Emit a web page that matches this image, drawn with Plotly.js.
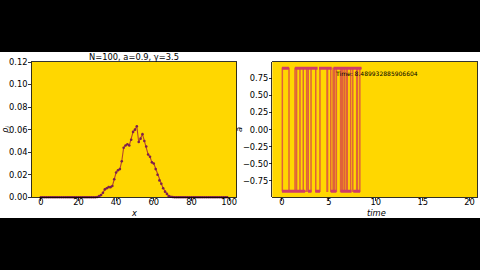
<!DOCTYPE html>
<html>
<head>
<meta charset="utf-8">
<script src="https://cdn.plot.ly/plotly-3.0.1.min.js"></script>
<style>
html,body{margin:0;padding:0;background:#000;width:480px;height:270px;overflow:hidden;}
#chart{position:absolute;left:0;top:52px;width:480px;height:166px;}
</style>
</head>
<body>
<div id="chart"></div>
<script>
// ---- data ----
var siteIndex = [];
for (var i = 0; i < 100; i++) siteIndex.push(i);
var rho = [
 0,0,0,0,0,0,0,0,0,0,
 0,0,0,0,0,0,0,0,0,0,
 0,0,0,0,0,0,0,0,0,0,
 0.0002,0.001,0.002,0.004,0.007,0.008,0.009,0.009,0.010,0.016,
 0.022,0.024,0.025,0.032,0.044,0.046,0.047,0.046,0.051,0.058,
 0.060,0.063,0.049,0.052,0.056,0.050,0.045,0.038,0.036,0.031,
 0.030,0.025,0.020,0.015,0.012,0.008,0.005,0.003,0.001,0.0005,
 0.0002,0,0,0,0,0,0,0,0,0,
 0,0,0,0,0,0,0,0,0,0,
 0,0,0,0,0,0,0,0,0,0
];
var titleText = "N=100, a=0.9, γ=3.5";
var currentTime = "8.489932885906604";

// switching signal a(t): times where the state starts, and the state
var switchT = [0, 0.04, 0.75, 1.39, 1.56, 1.92, 2.27, 2.63, 2.8, 3.1, 3.6, 4.05, 4.8, 4.86, 5.2, 5.45, 5.6, 5.8, 6.25, 6.36, 6.45, 6.64, 6.7, 6.9, 6.97, 7.32, 7.55, 7.96, 8.05, 8.3, 8.49];
var switchA = [-0.9, 0.9, -0.9, 0.9, -0.9, 0.9, -0.9, 0.9, -0.9, 0.9, -0.9, 0.9, -0.9, 0.9, -0.9, 0.9, -0.9, 0.9, -0.9, 0.9, -0.9, 0.9, -0.9, 0.9, -0.9, 0.9, -0.9, 0.9, -0.9, 0.9, 0.9];
// time spans densely covered by sample markers at each level
var topSpans = [[0.0, 0.74], [1.4, 3.8], [3.95, 5.3], [5.5, 8.47]];
var bottomSpans = [[0.0, 2.47], [2.78, 3.15], [3.55, 4.05], [5.2, 5.8], [6.24, 7.42], [7.6, 8.33]];
var levelTop = 0.9, levelBottom = -0.9;

var xTicksL = [0, 20, 40, 60, 80, 100];
var yTicksL = [0, 0.02, 0.04, 0.06, 0.08, 0.10, 0.12];
var xTicksR = [0, 5, 10, 15, 20];
var yTicksR = [-0.75, -0.5, -0.25, 0, 0.25, 0.5, 0.75];

function spansToXY(spans, level) {
  var xs = [], ys = [];
  spans.forEach(function (s) { xs.push(s[0], s[1], null); ys.push(level, level, null); });
  return {x: xs, y: ys};
}
var topXY = spansToXY(topSpans, levelTop);
var botXY = spansToXY(bottomSpans, levelBottom);

var font = {family: "DejaVu Sans", size: 8.3, color: "#000"};

var traces = [
  {x: siteIndex, y: rho, xaxis: 'x', yaxis: 'y', type: 'scatter', mode: 'lines+markers',
   line: {color: '#b5452c', width: 1.1}, marker: {color: '#7d1f4e', size: 2.6},
   cliponaxis: false, hoverinfo: 'skip'},
  {x: switchT, y: switchA, xaxis: 'x2', yaxis: 'y2', type: 'scatter', mode: 'lines',
   line: {color: '#e0623a', width: 1.5, shape: 'hv'}, hoverinfo: 'skip'},
  {x: topXY.x, y: topXY.y, xaxis: 'x2', yaxis: 'y2', type: 'scatter', mode: 'lines',
   line: {color: '#d03c68', width: 3}, connectgaps: false, hoverinfo: 'skip'},
  {x: botXY.x, y: botXY.y, xaxis: 'x2', yaxis: 'y2', type: 'scatter', mode: 'lines',
   line: {color: '#d03c68', width: 3}, connectgaps: false, hoverinfo: 'skip'}
];

var axBase = {showgrid: false, zeroline: false, showline: true, linecolor: '#000', linewidth: 0.8,
  mirror: true, ticks: 'outside', ticklen: 2.5, tickwidth: 0.8, tickcolor: '#000',
  tickfont: font, fixedrange: true};

function ax(extra) { return Object.assign({}, axBase, extra); }

var H = 166, W = 480;
var yDom = [(H - 145.3) / H, (H - 10) / H];

var layout = {
  width: W, height: H,
  margin: {l: 0, r: 0, t: 0, b: 0},
  paper_bgcolor: '#ffffff',
  plot_bgcolor: '#ffd700',
  showlegend: false,
  font: font,
  title: {text: titleText, font: font, x: 134 / W, xanchor: 'center', y: (H - 5) / H, yanchor: 'middle'},
  xaxis: ax({domain: [31.5 / W, 236.5 / W], range: [-4.95, 103.95], tickvals: xTicksL, ticktext: xTicksL.map(String), anchor: 'y', ticklabelstandoff: -6}),
  yaxis: ax({domain: yDom, range: [0, 0.12], tickvals: yTicksL, tickformat: '.2f', anchor: 'x', ticklabelstandoff: -1}),
  xaxis2: ax({domain: [272.3 / W, 477.3 / W], range: [-1.03, 20.82], tickvals: xTicksR, anchor: 'y2', ticklabelstandoff: -6}),
  yaxis2: ax({domain: yDom, range: [-0.99, 0.99], tickvals: yTicksR, tickformat: '.2f', anchor: 'x2', ticklabelstandoff: -1}),
  annotations: [
    {text: '<i>x</i>', xref: 'paper', yref: 'paper', x: 134 / W, y: (H - 161) / H, xanchor: 'center', yanchor: 'middle', showarrow: false, font: font},
    {text: '<i>time</i>', xref: 'paper', yref: 'paper', x: 376 / W, y: (H - 160.8) / H, xanchor: 'center', yanchor: 'middle', showarrow: false, font: font},
    {text: '<i>ρ</i><sub><i>i</i></sub>', xref: 'paper', yref: 'paper', x: 5.5 / W, y: (H - 77.6) / H, xanchor: 'center', yanchor: 'middle', textangle: -90, showarrow: false, font: font},
    {text: '<i>a</i>', xref: 'paper', yref: 'paper', x: 238.5 / W, y: (H - 77.6) / H, xanchor: 'center', yanchor: 'middle', textangle: -90, showarrow: false, font: font},
    {text: 'Time: ' + currentTime, xref: 'x2', yref: 'y2', x: 5.47, y: 0.82, xanchor: 'left', yanchor: 'middle', showarrow: false, font: {family: 'DejaVu Sans', size: 6, color: '#000'}}
  ]
};

Plotly.newPlot('chart', traces, layout, {staticPlot: true, displayModeBar: false});
</script>
</body>
</html>
